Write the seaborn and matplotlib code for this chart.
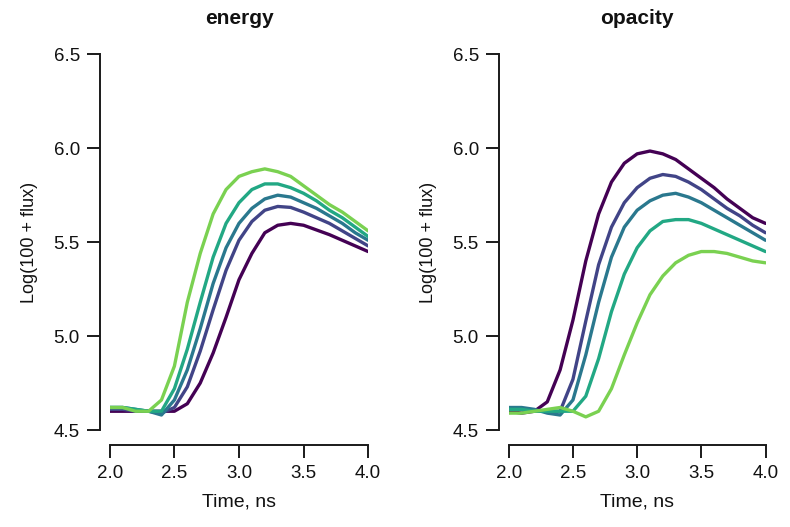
import numpy as np
import pandas as pd
import matplotlib
matplotlib.use("Agg")
import matplotlib.pyplot as plt
import seaborn as sns

time = [2.0, 2.1, 2.2, 2.3, 2.4, 2.5, 2.6, 2.7, 2.8, 2.9, 3.0,
        3.1, 3.2, 3.3, 3.4, 3.5, 3.6, 3.7, 3.8, 3.9, 4.0]
levels = ["1", "2", "3", "4", "5"]

energy_1 = [4.60, 4.60, 4.60, 4.60, 4.60, 4.60, 4.64, 4.75, 4.91, 5.10, 5.30,
            5.44, 5.55, 5.59, 5.60, 5.59, 5.565, 5.54, 5.51, 5.48, 5.45]
energy_2 = [4.61, 4.61, 4.60, 4.60, 4.59, 4.62, 4.73, 4.92, 5.14, 5.35, 5.51,
            5.61, 5.67, 5.69, 5.685, 5.66, 5.63, 5.60, 5.56, 5.52, 5.48]
energy_3 = [4.62, 4.62, 4.61, 4.60, 4.58, 4.66, 4.82, 5.04, 5.28, 5.47, 5.60,
            5.68, 5.73, 5.75, 5.74, 5.71, 5.68, 5.64, 5.60, 5.55, 5.51]
energy_4 = [4.62, 4.62, 4.61, 4.60, 4.60, 4.72, 4.93, 5.18, 5.42, 5.60, 5.71,
            5.78, 5.81, 5.81, 5.79, 5.76, 5.72, 5.67, 5.63, 5.58, 5.53]
energy_5 = [4.62, 4.62, 4.60, 4.60, 4.66, 4.84, 5.18, 5.44, 5.65, 5.78, 5.85,
            5.875, 5.89, 5.875, 5.85, 5.80, 5.75, 5.70, 5.66, 5.61, 5.56]

opacity_1 = [4.60, 4.59, 4.60, 4.65, 4.82, 5.085, 5.40, 5.65, 5.82, 5.92, 5.97,
             5.985, 5.97, 5.94, 5.89, 5.84, 5.79, 5.73, 5.68, 5.63, 5.60]
opacity_2 = [4.61, 4.61, 4.60, 4.60, 4.60, 4.77, 5.08, 5.38, 5.58, 5.71, 5.79,
             5.84, 5.86, 5.85, 5.82, 5.78, 5.73, 5.68, 5.64, 5.59, 5.55]
opacity_3 = [4.62, 4.62, 4.61, 4.59, 4.58, 4.66, 4.90, 5.18, 5.42, 5.58, 5.67,
             5.72, 5.75, 5.76, 5.74, 5.71, 5.67, 5.63, 5.59, 5.55, 5.51]
opacity_4 = [4.61, 4.61, 4.60, 4.60, 4.60, 4.60, 4.68, 4.88, 5.13, 5.33, 5.47,
             5.56, 5.61, 5.62, 5.62, 5.60, 5.57, 5.54, 5.51, 5.48, 5.45]
opacity_5 = [4.59, 4.59, 4.60, 4.61, 4.62, 4.60, 4.57, 4.60, 4.72, 4.90, 5.07,
             5.22, 5.32, 5.39, 5.43, 5.45, 5.45, 5.44, 5.42, 5.40, 5.39]

panels = ["energy", "opacity"]
series = {
    "energy": [energy_1, energy_2, energy_3, energy_4, energy_5],
    "opacity": [opacity_1, opacity_2, opacity_3, opacity_4, opacity_5],
}

rows = []
for p in panels:
    for lev, vals in zip(levels, series[p]):
        for t, v in zip(time, vals):
            rows.append({"panel": p, "level": lev, "time": t, "value": v})
df = pd.DataFrame(rows)

sns.set_theme(style="ticks")
plt.rcParams["font.family"] = ["Liberation Sans", "DejaVu Sans"]

cmap = matplotlib.colormaps["viridis"]
palette = [cmap(x) for x in [0.0, 0.2, 0.4, 0.6, 0.8]]

fig = plt.figure(figsize=(7.9, 5.27), dpi=100)
positions = [[0.139, 0.184, 0.327, 0.713], [0.644, 0.184, 0.325, 0.713]]

for p, pos in zip(panels, positions):
    ax = fig.add_axes(pos)
    sns.lineplot(data=df[df.panel == p], x="time", y="value", hue="level",
                 hue_order=levels, palette=palette, linewidth=2.4,
                 legend=False, ax=ax)
    ax.set_xlim(2.0, 4.0)
    ax.set_ylim(4.5, 6.5)
    ax.set_xticks([2.0, 2.5, 3.0, 3.5, 4.0])
    ax.set_yticks([4.5, 5.0, 5.5, 6.0, 6.5])
    ax.set_xticklabels(["2.0", "2.5", "3.0", "3.5", "4.0"])
    ax.set_yticklabels(["4.5", "5.0", "5.5", "6.0", "6.5"])
    ax.tick_params(labelsize=13.5, length=9.5, width=1.4, color="#1a1a1a",
                   labelcolor="#111111", pad=5)
    sns.despine(ax=ax)
    ax.spines["left"].set_position(("outward", 7))
    ax.spines["bottom"].set_position(("outward", 11))
    for s in ["left", "bottom"]:
        ax.spines[s].set_linewidth(1.4)
        ax.spines[s].set_color("#1a1a1a")
    ax.set_xlabel("Time, ns", fontsize=14, labelpad=8, color="#111111")
    ax.set_ylabel("Log(100 + flux)", fontsize=13, labelpad=11, color="#111111")
    ax.set_title(p, fontsize=15, fontweight="bold", pad=22, color="#111111")

fig.savefig("out.png", dpi=100)
